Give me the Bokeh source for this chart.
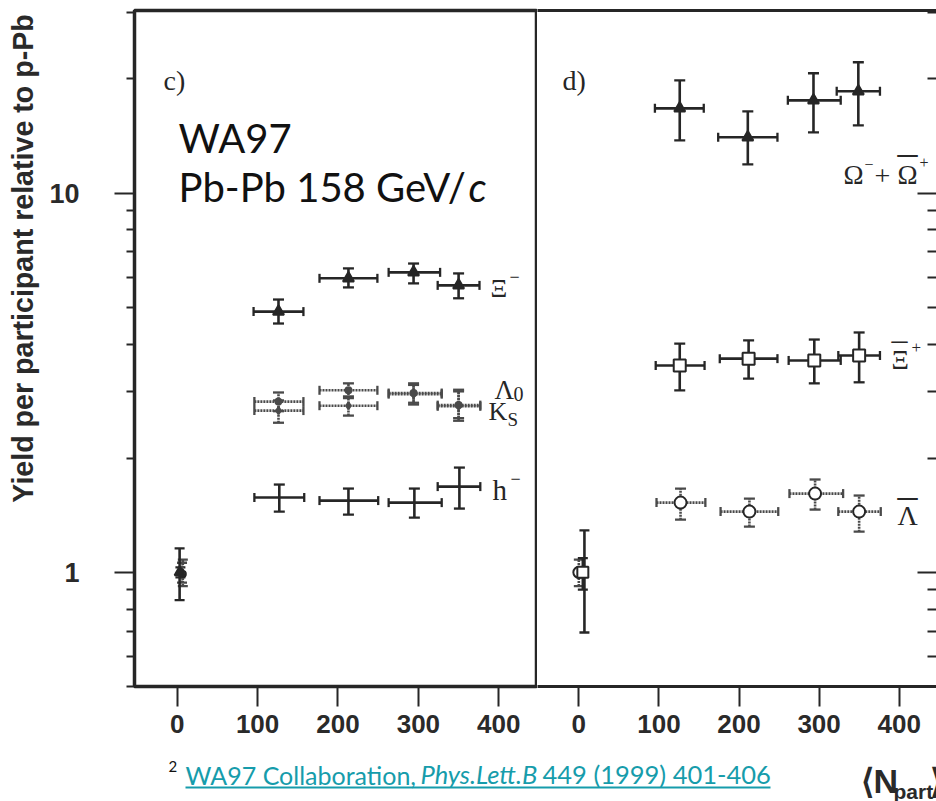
import math
from bokeh.plotting import figure
from bokeh.models import (Range1d, FixedTicker, BasicTickFormatter, CustomJSTickFormatter,
                          Whisker, TeeHead, ColumnDataSource, Label, LinearAxis)
from bokeh.layouts import row, column
from bokeh.embed import file_html
from bokeh.resources import INLINE

# ------------------------------------------------------------------ data
# panel c)  (Pb-Pb yields per participant relative to p-Pb)
xi_x = [126, 213, 294, 350]
xi_xlo = [95, 177, 263, 324]
xi_xhi = [157, 249, 327, 376]
xi_y = [4.87, 5.96, 6.18, 5.71]
xi_ylo = [4.53, 5.64, 5.78, 5.28]
xi_yhi = [5.24, 6.33, 6.52, 6.14]

lam_x = [126, 213, 294, 350]
lam_xlo = [96, 177, 263, 324]
lam_xhi = [157, 249, 329, 377]
lam_y = [2.82, 3.02, 2.97, 2.76]
lam_ylo = [2.66, 2.88, 2.80, 2.55]
lam_yhi = [2.98, 3.15, 3.15, 3.00]

k0s_x = [126, 213, 294, 350]
k0s_xlo = [96, 177, 263, 324]
k0s_xhi = [157, 249, 329, 377]
k0s_y = [2.67, 2.75, 2.95, 2.74]
k0s_ylo = [2.48, 2.59, 2.77, 2.51]
k0s_yhi = [2.84, 2.91, 3.12, 3.03]

hm_x = [127, 213, 295, 351]
hm_xlo = [96, 177, 263, 324]
hm_xhi = [158, 250, 329, 377]
hm_y = [1.575, 1.546, 1.527, 1.683]
hm_ylo = [1.446, 1.420, 1.394, 1.473]
hm_yhi = [1.704, 1.663, 1.663, 1.889]

# p-Pb reference points of panel c): Xi-, Lambda, K0s, h-
ppb_c_x = [3, 7, 6, 4]
ppb_c_y = [1.0, 0.99, 1.0, 1.0]
ppb_c_ylo = [0.845, 0.92, 0.94, 0.97]
ppb_c_yhi = [1.157, 1.08, 1.06, 1.03]

# panel d)
om_x = [126, 211, 293, 349]
om_xlo = [95, 174, 261, 322]
om_xhi = [156, 248, 327, 376]
om_y = [16.73, 14.03, 17.56, 18.55]
om_ylo = [13.78, 11.90, 14.46, 15.09]
om_yhi = [19.83, 16.43, 20.70, 22.13]

axi_x = [126, 212, 294, 350]
axi_xlo = [96, 176, 262, 324]
axi_xhi = [157, 248, 327, 376]
axi_y = [3.51, 3.66, 3.62, 3.73]
axi_ylo = [3.02, 3.24, 3.15, 3.17]
axi_yhi = [4.01, 4.09, 4.11, 4.29]

alam_x = [127, 213, 295, 350]
alam_xlo = [97, 177, 263, 324]
alam_xhi = [158, 249, 330, 377]
alam_y = [1.527, 1.446, 1.613, 1.446]
alam_ylo = [1.377, 1.320, 1.464, 1.280]
alam_yhi = [1.663, 1.565, 1.757, 1.594]

# p-Pb reference points of panel d): Omega, anti-Xi, anti-Lambda
ppb_d_x = [7, 5, 0]
ppb_d_y = [1.0, 1.0, 1.0]
ppb_d_ylo = [0.694, 0.90, 0.92]
ppb_d_yhi = [1.29, 1.09, 1.08]

x_ticks = [0, 100, 200, 300, 400]
y_major = [1, 10]
y_minor = [0.5, 0.6, 0.7, 0.8, 0.9, 2, 3, 4, 5, 6, 7, 8, 9, 20, 30]

# ------------------------------------------------------------------ style
INK = "#262626"
DOT = "#4a4a4a"
TEAL = "#169cab"
X_LEFT = (-53.1, 446.9)
X_RIGHT = (-51.6, 446.6)
Y_RANGE = (0.5, 30.3)
TOP, BOTTOM = 10, 686          # frame pixel rows
ROW_H = 750
PX_PER_DEC = (BOTTOM - TOP) / math.log10(Y_RANGE[1] / Y_RANGE[0])
# label baseline correction (fraction of font size) per font
KB = {"Liberation Serif": 0.28, "Lato": 0.40, "Liberation Sans": 0.35}


def y_at(py):
    return Y_RANGE[0] * 10 ** ((BOTTOM - py) / PX_PER_DEC)


def xl_at(px):
    return X_LEFT[0] + (px - 134) * (X_LEFT[1] - X_LEFT[0]) / 402.0


def xr_at(px):
    return X_RIGHT[0] + (px - 537) * (X_RIGHT[1] - X_RIGHT[0]) / 399.0


def lab(p, x, y, text, size, font="Liberation Serif", style="normal", color=INK,
        align="left", baseline="alphabetic", angle=0.0):
    p.add_layout(Label(x=x, y=y, text=text, text_font=font, text_font_size=f"{size}px",
                       text_font_style=style, text_color=color, text_align=align,
                       text_baseline=baseline, angle=angle))


def plab(p, xfun, px, py, text, size, font="Liberation Serif", **kw):
    """label whose baseline should land on pixel row py of a panel"""
    lab(p, xfun(px), y_at(py - KB[font] * size), text, size, font=font, **kw)


def flab(p, px, py, text, size, font="Lato", **kw):
    """label in the footer strip (rows ROW_H..801)"""
    lab(p, px, (801 - py) + KB[font] * size, text, size, font=font, **kw)


def series(p, x, xlo, xhi, y, ylo, yhi, marker=None, size=10, fill=INK, dotted=False, mcolor=INK):
    src = ColumnDataSource(dict(x=x, xlo=xlo, xhi=xhi, y=y, ylo=ylo, yhi=yhi))
    dash = "2 1" if dotted else "solid"
    col = DOT if dotted else INK
    for dim, base, lo, hi, cap in (("height", "x", "ylo", "yhi", 11), ("width", "y", "xlo", "xhi", 9)):
        hd = dict(size=cap, line_width=2.3, line_color=col)
        p.add_layout(Whisker(source=src, base=base, lower=lo, upper=hi, dimension=dim,
                             line_color=col, line_width=2.6, line_dash=dash,
                             lower_head=TeeHead(**hd), upper_head=TeeHead(**hd)))
    if marker:
        p.scatter("x", "y", source=src, marker=marker, size=size, fill_color=fill,
                  line_color=mcolor, line_width=2)


def ppb(p, x, y, lo, hi, marker=None, size=10, fill=INK, dotted=False):
    src = ColumnDataSource(dict(x=[x], y=[y], lo=[lo], hi=[hi]))
    col = DOT if dotted else INK
    hd = dict(size=10, line_width=2.3, line_color=col)
    p.add_layout(Whisker(source=src, base="x", lower="lo", upper="hi", dimension="height",
                         line_color=col, line_width=2.6, line_dash="2 1" if dotted else "solid",
                         lower_head=TeeHead(**hd), upper_head=TeeHead(**hd)))
    if marker:
        p.scatter("x", "y", source=src, marker=marker, size=size, fill_color=fill,
                  line_color=INK, line_width=2)


def style_x(p):
    ax = p.xaxis[0]
    ax.ticker = FixedTicker(ticks=x_ticks)
    ax.major_tick_out = 20
    ax.major_tick_in = 0
    ax.minor_tick_out = 0
    ax.minor_tick_in = 0
    ax.major_tick_line_width = 2
    ax.major_tick_line_color = INK
    ax.axis_line_color = INK
    ax.axis_line_width = 3
    ax.major_label_text_font = "Liberation Sans"
    ax.major_label_text_font_style = "bold"
    ax.major_label_text_font_size = "26px"
    ax.major_label_text_color = "#2a2a2a"
    ax.major_label_standoff = 8


def make_fig(xr, width, mbl, mbr, yloc):
    p = figure(width=width, height=ROW_H, x_range=Range1d(*xr), y_range=Range1d(*Y_RANGE),
               y_axis_type="log", y_axis_location=yloc, x_axis_location="below",
               min_border_left=mbl, min_border_right=mbr, min_border_top=TOP,
               min_border_bottom=ROW_H - BOTTOM, output_backend="svg", toolbar_location=None)
    p.grid.visible = False
    p.background_fill_color = "white"
    p.border_fill_color = "white"
    style_x(p)
    ay = p.yaxis[0]
    ay.ticker = FixedTicker(ticks=y_major, minor_ticks=y_minor)
    ay.formatter = BasicTickFormatter()
    ay.major_tick_line_width = 2
    ay.minor_tick_line_width = 2
    ay.major_tick_line_color = INK
    ay.minor_tick_line_color = INK
    return p


def strip(width, height):
    p = figure(width=width, height=height, x_range=Range1d(0, width), y_range=Range1d(0, height),
               x_axis_location=None, y_axis_location=None, min_border=0,
               output_backend="svg", toolbar_location=None)
    p.grid.visible = False
    p.outline_line_color = None
    return p


# ------------------------------------------------------------------ y title strip
YL_W = 45
py_title = strip(YL_W, ROW_H)
lab(py_title, 22, ROW_H - 546, "Yield per participant relative to p-Pb", 28.6,
    font="Liberation Sans", style="bold", color="#2a2a2a", align="left",
    baseline="middle", angle=math.pi / 2)

# ------------------------------------------------------------------ panel c
pc = make_fig(X_LEFT, 537 - YL_W, 134 - YL_W, 1, "left")
pc.outline_line_color = INK
pc.outline_line_width = 3.5
ay = pc.yaxis[0]
ay.axis_line_color = None
ay.major_tick_out = 20
ay.major_tick_in = 0
ay.minor_tick_out = 8
ay.minor_tick_in = 0
ay.major_label_text_font = "Liberation Sans"
ay.major_label_text_font_style = "bold"
ay.major_label_text_font_size = "27px"
ay.major_label_text_color = "#2a2a2a"
ay.major_label_standoff = 35

series(pc, hm_x, hm_xlo, hm_xhi, hm_y, hm_ylo, hm_yhi)
series(pc, k0s_x, k0s_xlo, k0s_xhi, k0s_y, k0s_ylo, k0s_yhi, marker="diamond", size=7,
       fill=DOT, dotted=True, mcolor=DOT)
series(pc, lam_x, lam_xlo, lam_xhi, lam_y, lam_ylo, lam_yhi, marker="circle", size=6,
       fill=DOT, dotted=True, mcolor=DOT)
series(pc, xi_x, xi_xlo, xi_xhi, xi_y, xi_ylo, xi_yhi, marker="triangle", size=11)
ppb(pc, ppb_c_x[3], ppb_c_y[3], ppb_c_ylo[3], ppb_c_yhi[3])
ppb(pc, ppb_c_x[2], ppb_c_y[2], ppb_c_ylo[2], ppb_c_yhi[2], marker="diamond", size=7, fill=DOT, dotted=True)
ppb(pc, ppb_c_x[1], ppb_c_y[1], ppb_c_ylo[1], ppb_c_yhi[1], marker="circle", size=6, fill=DOT, dotted=True)
ppb(pc, ppb_c_x[0], ppb_c_y[0], ppb_c_ylo[0], ppb_c_yhi[0], marker="triangle", size=10)

plab(pc, xl_at, 163, 88, "c)", 28)
plab(pc, xl_at, 490, 295, "Ξ", 26)
plab(pc, xl_at, 509, 281, "−", 18)
plab(pc, xl_at, 494, 397, "Λ", 27)
plab(pc, xl_at, 513, 399, "0", 20)
plab(pc, xl_at, 488, 418, "K", 26)
plab(pc, xl_at, 507, 424, "S", 19)
plab(pc, xl_at, 492, 498, "h", 29)
plab(pc, xl_at, 510, 483, "−", 18)

plab(pc, xl_at, 178, 153, "WA97", 40, font="Lato", color="#111111")
plab(pc, xl_at, 178, 202, "Pb-Pb 158 GeV/", 40, font="Lato", color="#111111")
plab(pc, xl_at, 468, 202, "c", 40, font="Lato", style="italic", color="#111111")

# ------------------------------------------------------------------ panel d
pd = make_fig(X_RIGHT, 399, 0, 0, "right")
pd.outline_line_color = None
ay = pd.yaxis[0]
ay.axis_line_color = None
ay.major_tick_out = 0
ay.major_tick_in = 19
ay.minor_tick_out = 0
ay.minor_tick_in = 9
ay.formatter = CustomJSTickFormatter(code="return ''")
ay.major_label_standoff = 0
top_ax = LinearAxis(ticker=FixedTicker(ticks=[]), major_tick_out=0, major_tick_in=0,
                    minor_tick_out=0, minor_tick_in=0, axis_line_color=INK,
                    axis_line_width=3, major_label_standoff=0)
pd.add_layout(top_ax, "above")

series(pd, alam_x, alam_xlo, alam_xhi, alam_y, alam_ylo, alam_yhi, marker="circle", size=12,
       fill="white", dotted=True)
series(pd, axi_x, axi_xlo, axi_xhi, axi_y, axi_ylo, axi_yhi, marker="square", size=12, fill="white")
series(pd, om_x, om_xlo, om_xhi, om_y, om_ylo, om_yhi, marker="triangle", size=11)
ppb(pd, ppb_d_x[0], ppb_d_y[0], ppb_d_ylo[0], ppb_d_yhi[0])
ppb(pd, ppb_d_x[2], ppb_d_y[2], ppb_d_ylo[2], ppb_d_yhi[2], marker="circle", size=11, fill="white", dotted=True)
ppb(pd, ppb_d_x[1], ppb_d_y[1], ppb_d_ylo[1], ppb_d_yhi[1], marker="square", size=11, fill="white")

plab(pd, xr_at, 562, 88, "d)", 28)
plab(pd, xr_at, 843, 182, "Ω", 27)
plab(pd, xr_at, 864, 168, "−", 16)
plab(pd, xr_at, 874, 183, "+", 28)
plab(pd, xr_at, 897, 182, "Ω", 27)
plab(pd, xr_at, 897, 153 + 0.24 * 40, "–", 40)        # overline of anti-Omega
plab(pd, xr_at, 919, 166, "+", 16)
plab(pd, xr_at, 891, 367, "Ξ", 27)
plab(pd, xr_at, 891, 340 + 0.24 * 32, "–", 32)        # overline of anti-Xi
plab(pd, xr_at, 911, 352, "+", 17)
plab(pd, xr_at, 897, 523, "Λ", 28)
plab(pd, xr_at, 897, 496 + 0.24 * 40, "–", 40)        # overline of anti-Lambda

# ------------------------------------------------------------------ footer
pf = strip(936, 801 - ROW_H)
flab(pf, 168, 772, "2", 15, color="#111111")
flab(pf, 185, 784, "WA97 Collaboration, ", 25, color=TEAL)
flab(pf, 420, 784, "Phys.Lett.B", 25.5, style="italic", color=TEAL)
flab(pf, 542, 784, " 449 (1999) 401-406", 25.5, color=TEAL)
pf.line([185, 770], [801 - 787, 801 - 787], line_color=TEAL, line_width=2)
flab(pf, 860, 792, "⟨N", 34, font="Liberation Sans", style="bold", color="#2a2a2a")
flab(pf, 893, 798, "part", 21, font="Liberation Sans", style="bold", color="#2a2a2a")
flab(pf, 929, 792, "⟩", 34, font="Liberation Sans", style="bold", color="#2a2a2a")

layout = column(row(py_title, pc, pd), pf)
open("out.html", "w").write(file_html(layout, INLINE))
